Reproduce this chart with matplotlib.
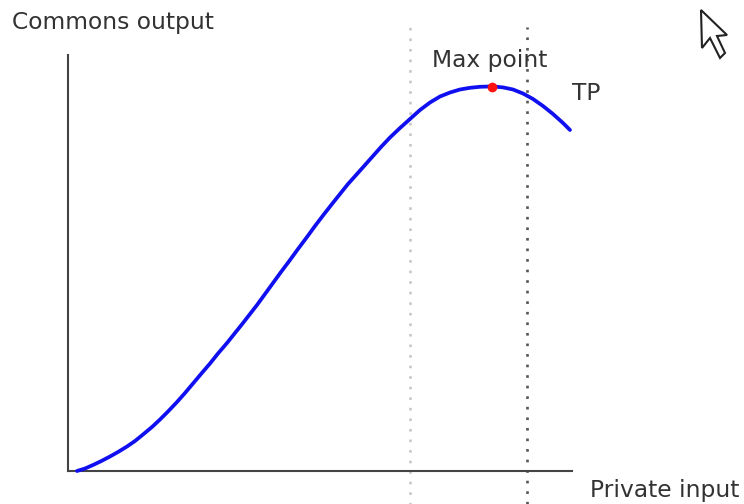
import matplotlib
matplotlib.use("Agg")
import matplotlib.pyplot as plt
from matplotlib.patches import Polygon

# values (pixels from the axes corner)
input_vals = [9, 17, 25, 33, 42, 50, 59, 67, 75, 84, 92, 100, 109, 117, 125, 133, 142, 150, 159,
              167, 175, 182, 189, 197, 205, 213, 222, 230, 239, 247, 255, 264, 272, 280, 289,
              297, 305, 313, 322, 332, 342, 352, 362, 372, 382, 392, 402, 412, 424, 435, 445,
              455, 465, 475, 485, 495, 502]
output_vals = [0, 2.5, 6, 9.8, 14.5, 19, 24.5, 30, 36.5, 44, 51.5, 59.5, 69, 78, 87.5, 97, 107.5,
               117.5, 128, 138, 148, 157, 166, 177, 188, 199, 211, 222, 234, 245, 255.5, 267,
               277, 287, 297, 306, 315, 324, 333.5, 343, 352, 361, 368.5, 374.5, 378.5, 381.5,
               383.2, 384.2, 384.6, 383.6, 381.5, 377.5, 372, 365, 357, 348, 341]
max_x, max_y = 424, 384
light_x, dark_x = 342, 459

fig = plt.figure(figsize=(7.44, 5.04), dpi=100)
ax = fig.add_axes([68 / 744, 33 / 504, 504 / 744, 416 / 504])
ax.set_xlim(0, 504)
ax.set_ylim(0, 416)
ax.set_xticks([])
ax.set_yticks([])
ax.spines["top"].set_visible(False)
ax.spines["right"].set_visible(False)
for s in ["left", "bottom"]:
    ax.spines[s].set_color("#444444")
    ax.spines[s].set_linewidth(1.5)

ax.plot([light_x, light_x], [-35, 444], color="#c8c8c8", lw=1.9, ls=(0, (1, 3)), clip_on=False)
ax.plot([dark_x, dark_x], [-33, 444], color="#555555", lw=1.9, ls=(0, (1, 3)), clip_on=False)

ax.plot(input_vals, output_vals, color="#0f0ff0", lw=2.7, solid_capstyle="round",
        solid_joinstyle="round", clip_on=False, zorder=3)
ax.plot([max_x], [max_y], "o", color="#ff1010", ms=7, mew=0, clip_on=False, zorder=4)

txt = "#333333"
fig.text(12 / 744, 1 - 23 / 504, "Commons output", fontsize=16.8, color=txt, va="center")
fig.text(590 / 744, 1 - 490 / 504, "Private input", fontsize=16.8, color=txt, va="center")
fig.text(432 / 744, 1 - 60 / 504, "Max point", fontsize=16.8, color=txt, va="center")
fig.text(572 / 744, 1 - 93 / 504, "TP", fontsize=16.8, color=txt, va="center")

# mouse pointer left in the screenshot
cursor = [(701, 10), (727, 35), (717, 36), (725, 53), (720, 58), (713, 44), (710, 38), (702, 48)]
fig.add_artist(Polygon([(x / 744, 1 - y / 504) for x, y in cursor], closed=True,
                       facecolor="white", edgecolor="#222222", lw=1.5, transform=fig.transFigure))

fig.savefig("out.png", dpi=100)
